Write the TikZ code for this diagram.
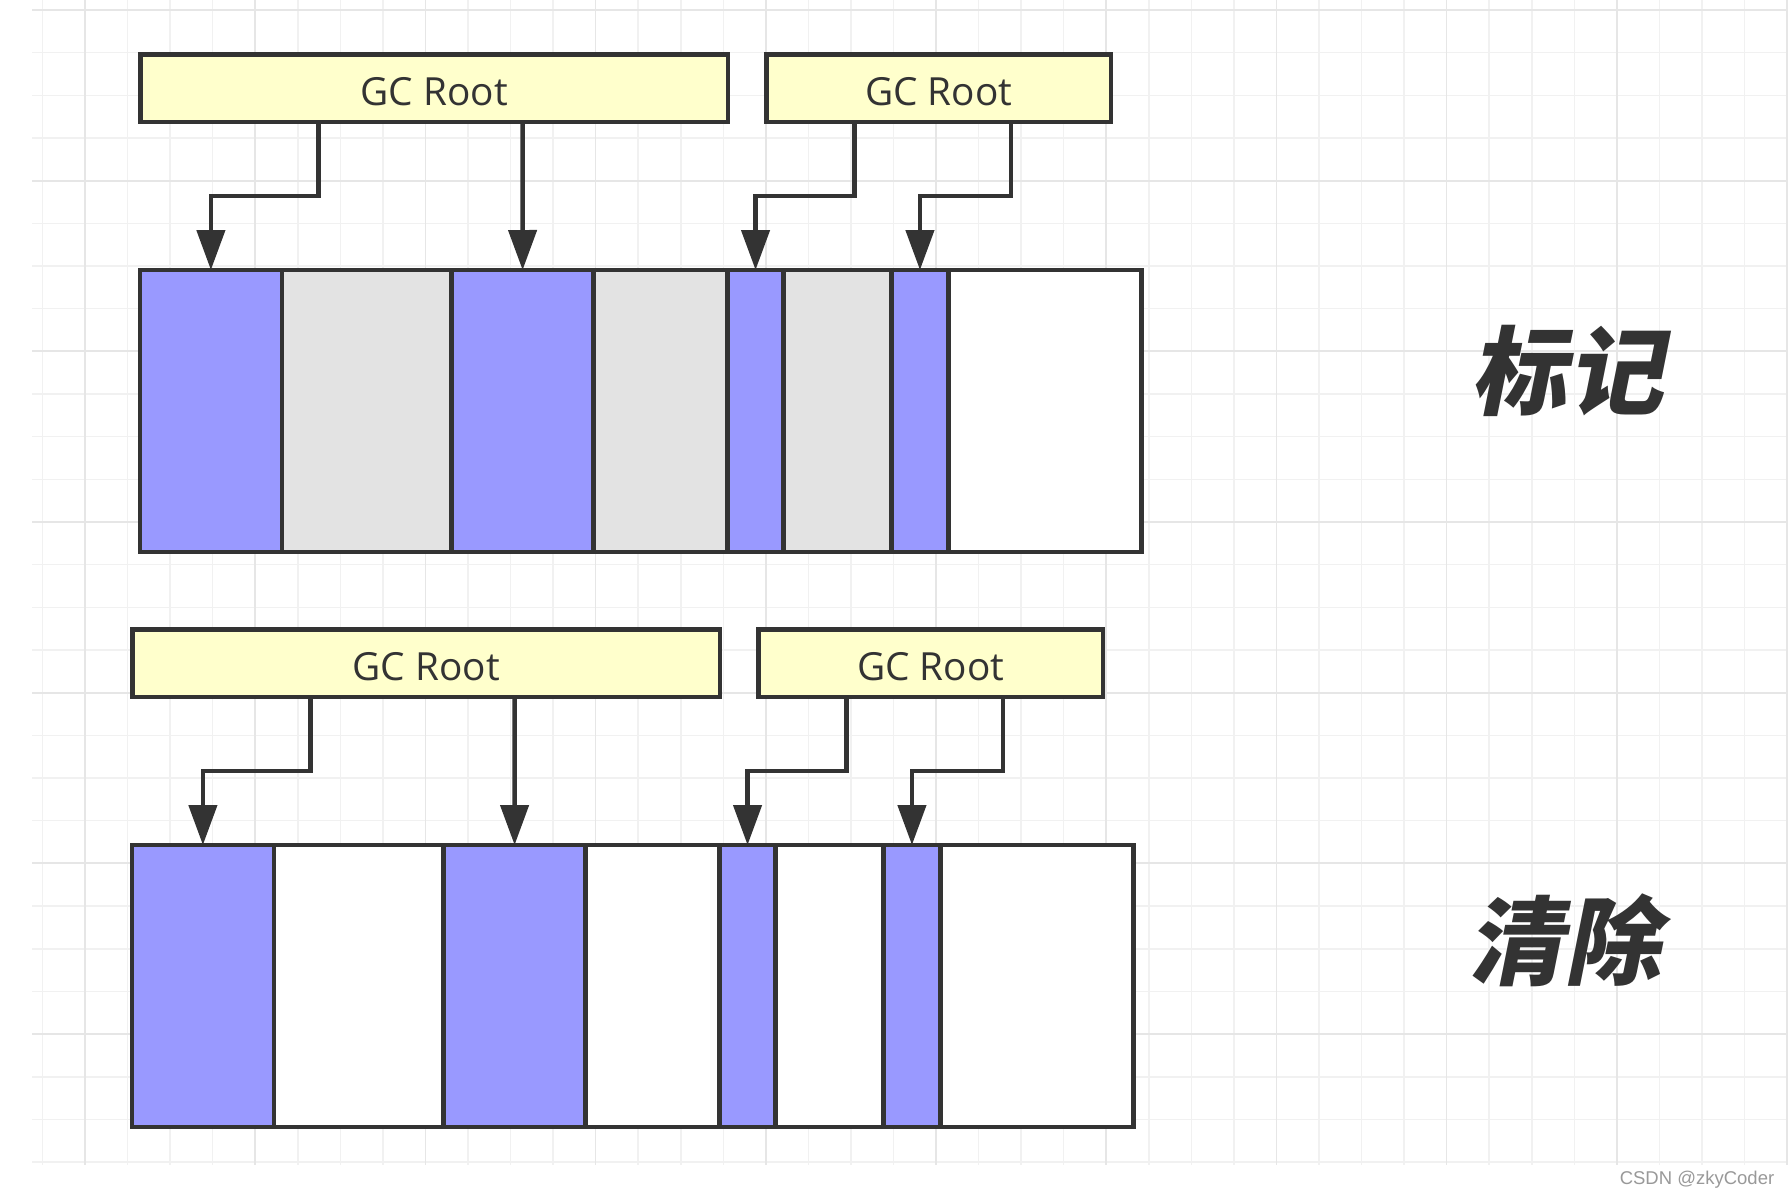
\documentclass[tikz,border=0pt]{standalone}
\usepackage{fontspec}
\setmainfont{Open Sans}
\newfontfamily\cjk[FakeSlant=0.2]{Noto Sans CJK SC}
\newfontfamily\wmfont{Liberation Sans}
\usetikzlibrary{arrows.meta,calc,fit}
\definecolor{ink}{HTML}{333333}
\definecolor{memP}{HTML}{9999FF}
\definecolor{memG}{HTML}{E3E3E3}
\definecolor{rootY}{HTML}{FFFFCC}
\definecolor{gridMinor}{HTML}{F1F1F1}
\definecolor{gridMajor}{HTML}{E6E6E6}
\definecolor{wmgray}{HTML}{999999}
\tikzset{
  gridminor/.style={draw=gridMinor, line width=0.6pt},
  gridmajor/.style={draw=gridMajor, line width=0.7pt},
  cellbox/.style={draw=ink, line width=1.8pt, inner sep=0pt, outer sep=0pt},
  rootbox/.style={draw=ink, line width=1.8pt, fill=rootY, inner sep=0pt, outer sep=0pt,
    label={[text=ink, font=\fontsize{15.5}{18}\selectfont, inner sep=0pt, yshift=-1.3pt]center:GC Root}},
  conn/.style={draw=ink, line width=1.8pt, -{Triangle[length=16pt,width=11.2pt]}},
  phase/.style={text=ink, font=\cjk\bfseries\fontsize{38.5}{42}\selectfont, inner sep=0pt},
}
\begin{document}
\begin{tikzpicture}[x=0.4pt,y=-0.4pt]
\useasboundingbox (0,0) rectangle (1788,1200);
\fill[white] (0,0) rectangle (1788,1200);
% grid
\foreach \i in {0,...,41} {
  \pgfmathsetmacro\gx{42.5+42.55*\i}
  \draw[gridminor] (\gx,0) -- (\gx,1165);
}
\foreach \j in {0,...,27} {
  \pgfmathsetmacro\gy{10+42.67*\j}
  \draw[gridminor] (32,\gy) -- (1788,\gy);
}
\foreach \i in {0,...,10} {
  \pgfmathsetmacro\gx{85+170.2*\i}
  \draw[gridmajor] (\gx,0) -- (\gx,1165);
}
\foreach \j in {0,...,6} {
  \pgfmathsetmacro\gy{10+170.67*\j}
  \draw[gridmajor] (32,\gy) -- (1788,\gy);
}

% ---------- top panel: mark ----------
\node[rootbox, fit={(140.5,54.5)(728,122)}] (r1) {};
\node[rootbox, fit={(766.5,54.5)(1111,122)}] (r2) {};

\node[cellbox, fill=memP, fit={(140,270)(281.8,552)}] (a1) {};
\node[cellbox, fill=memG, fit={(281.8,270)(451.5,552)}] (a2) {};
\node[cellbox, fill=memP, fit={(451.5,270)(593.7,552)}] (a3) {};
\node[cellbox, fill=memG, fit={(593.7,270)(727.4,552)}] (a4) {};
\node[cellbox, fill=memP, fit={(727.4,270)(783.7,552)}] (a5) {};
\node[cellbox, fill=memG, fit={(783.7,270)(891.6,552)}] (a6) {};
\node[cellbox, fill=memP, fit={(891.6,270)(948.3,552)}] (a7) {};
\node[cellbox, fill=white, fit={(948.3,270)(1141.5,552)}] (a8) {};

\draw[conn] ($(r1.south west)+(178,0)$) |- ($(a1.north)+(0,-74)$) -- (a1.north);
\draw[conn] ($(r1.south west)+(382,0)$) -- (a3.north);
\draw[conn] ($(r2.south west)+(88,0)$) |- ($(a5.north)+(0,-74)$) -- (a5.north);
\draw[conn] ($(r2.south west)+(244.5,0)$) |- ($(a7.north)+(0,-74)$) -- (a7.north);

\node[phase] (mark) at (1567,371) {标记};

% ---------- bottom panel: sweep ----------
\node[rootbox, fit={(132.5,629.5)(720,697)}] (r3) {};
\node[rootbox, fit={(758.5,629.5)(1103,697)}] (r4) {};

\node[cellbox, fill=memP, fit={(132,845)(273.8,1127)}] (b1) {};
\node[cellbox, fill=white, fit={(273.8,845)(443.5,1127)}] (b2) {};
\node[cellbox, fill=memP, fit={(443.5,845)(585.7,1127)}] (b3) {};
\node[cellbox, fill=white, fit={(585.7,845)(719.4,1127)}] (b4) {};
\node[cellbox, fill=memP, fit={(719.4,845)(775.7,1127)}] (b5) {};
\node[cellbox, fill=white, fit={(775.7,845)(883.6,1127)}] (b6) {};
\node[cellbox, fill=memP, fit={(883.6,845)(940.3,1127)}] (b7) {};
\node[cellbox, fill=white, fit={(940.3,845)(1133.5,1127)}] (b8) {};

\draw[conn] ($(r3.south west)+(178,0)$) |- ($(b1.north)+(0,-74)$) -- (b1.north);
\draw[conn] ($(r3.south west)+(382,0)$) -- (b3.north);
\draw[conn] ($(r4.south west)+(88,0)$) |- ($(b5.north)+(0,-74)$) -- (b5.north);
\draw[conn] ($(r4.south west)+(244.5,0)$) |- ($(b7.north)+(0,-74)$) -- (b7.north);

\node[phase] (sweep) at (1564,940) {清除};

\node[text=wmgray, font=\wmfont\fontsize{7.4}{9}\selectfont, inner sep=0pt] (wm) at (1697,1180) {CSDN @zkyCoder};
\end{tikzpicture}
\end{document}
